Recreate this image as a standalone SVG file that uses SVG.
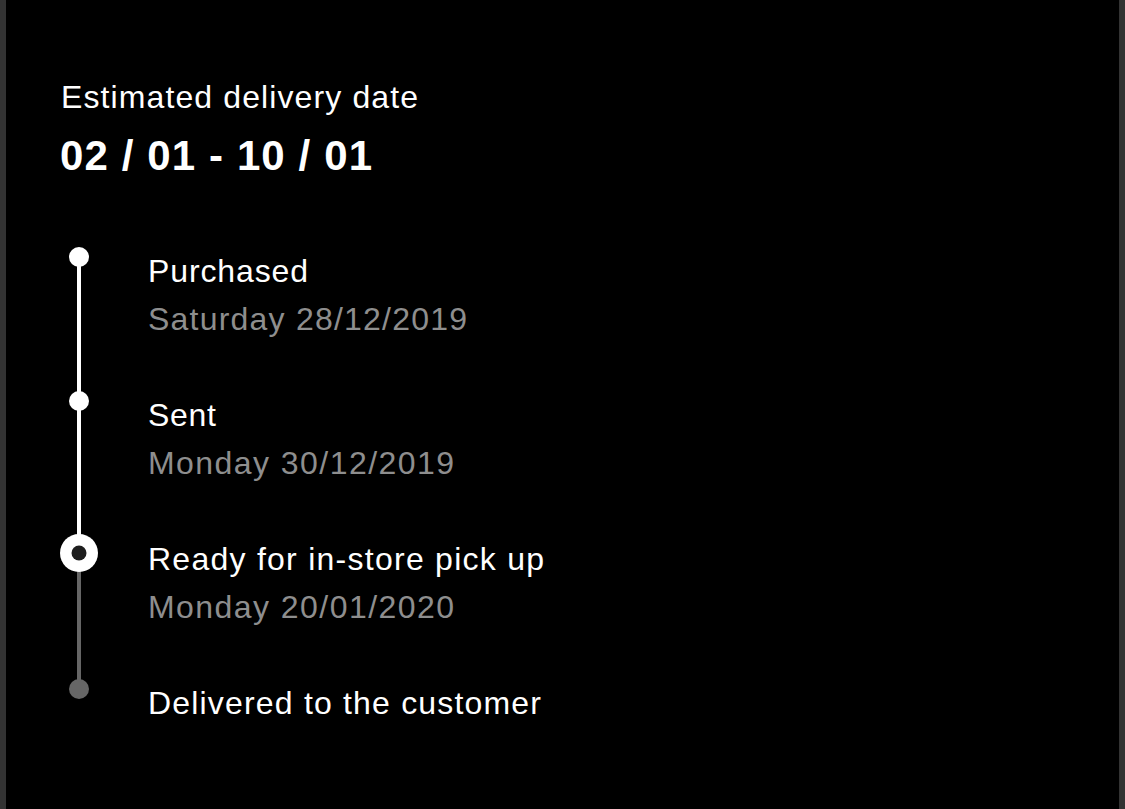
<svg xmlns="http://www.w3.org/2000/svg" width="1125" height="809" viewBox="0 0 1125 809">
<style>
text{font-family:"Liberation Sans",Arial,sans-serif;}
.t{fill:#fff;font-size:32px;}
.d{fill:#8e8e8e;font-size:32px;}
.h{fill:#fff;font-size:42px;font-weight:bold;}
</style>
<rect width="1125" height="809" fill="#000"/>
<rect x="0" y="0" width="6" height="809" fill="#333"/>
<rect x="1119" y="0" width="6" height="809" fill="#333"/>
<text class="t" x="61" y="108" textLength="357">Estimated delivery date</text>
<text class="h" x="60" y="170" textLength="312">02 / 01 - 10 / 01</text>
<g id="connectors">
<line x1="79" y1="257" x2="79" y2="400" stroke="#fff" stroke-width="4"/>
<line x1="79" y1="400" x2="79" y2="553" stroke="#fff" stroke-width="4"/>
<line x1="79" y1="553" x2="79" y2="689" stroke="#666" stroke-width="4"/>
</g>
<g id="purchased">
<circle cx="79" cy="257" r="10" fill="#fff"/>
<text class="t" x="148" y="282" textLength="160">Purchased</text>
<text class="d" x="148" y="330" textLength="319">Saturday 28/12/2019</text>
</g>
<g id="sent">
<circle cx="79" cy="401" r="10" fill="#fff"/>
<text class="t" x="148" y="426" textLength="68">Sent</text>
<text class="d" x="148" y="474" textLength="306">Monday 30/12/2019</text>
</g>
<g id="ready">
<circle cx="79" cy="553" r="19" fill="#fff"/>
<circle cx="79" cy="553" r="7.5" fill="#1e1e1e"/>
<text class="t" x="148" y="570" textLength="396">Ready for in-store pick up</text>
<text class="d" x="148" y="618" textLength="306">Monday 20/01/2020</text>
</g>
<g id="delivered">
<circle cx="79" cy="689" r="10" fill="#666"/>
<text class="t" x="148" y="714" textLength="393">Delivered to the customer</text>
</g>
</svg>
